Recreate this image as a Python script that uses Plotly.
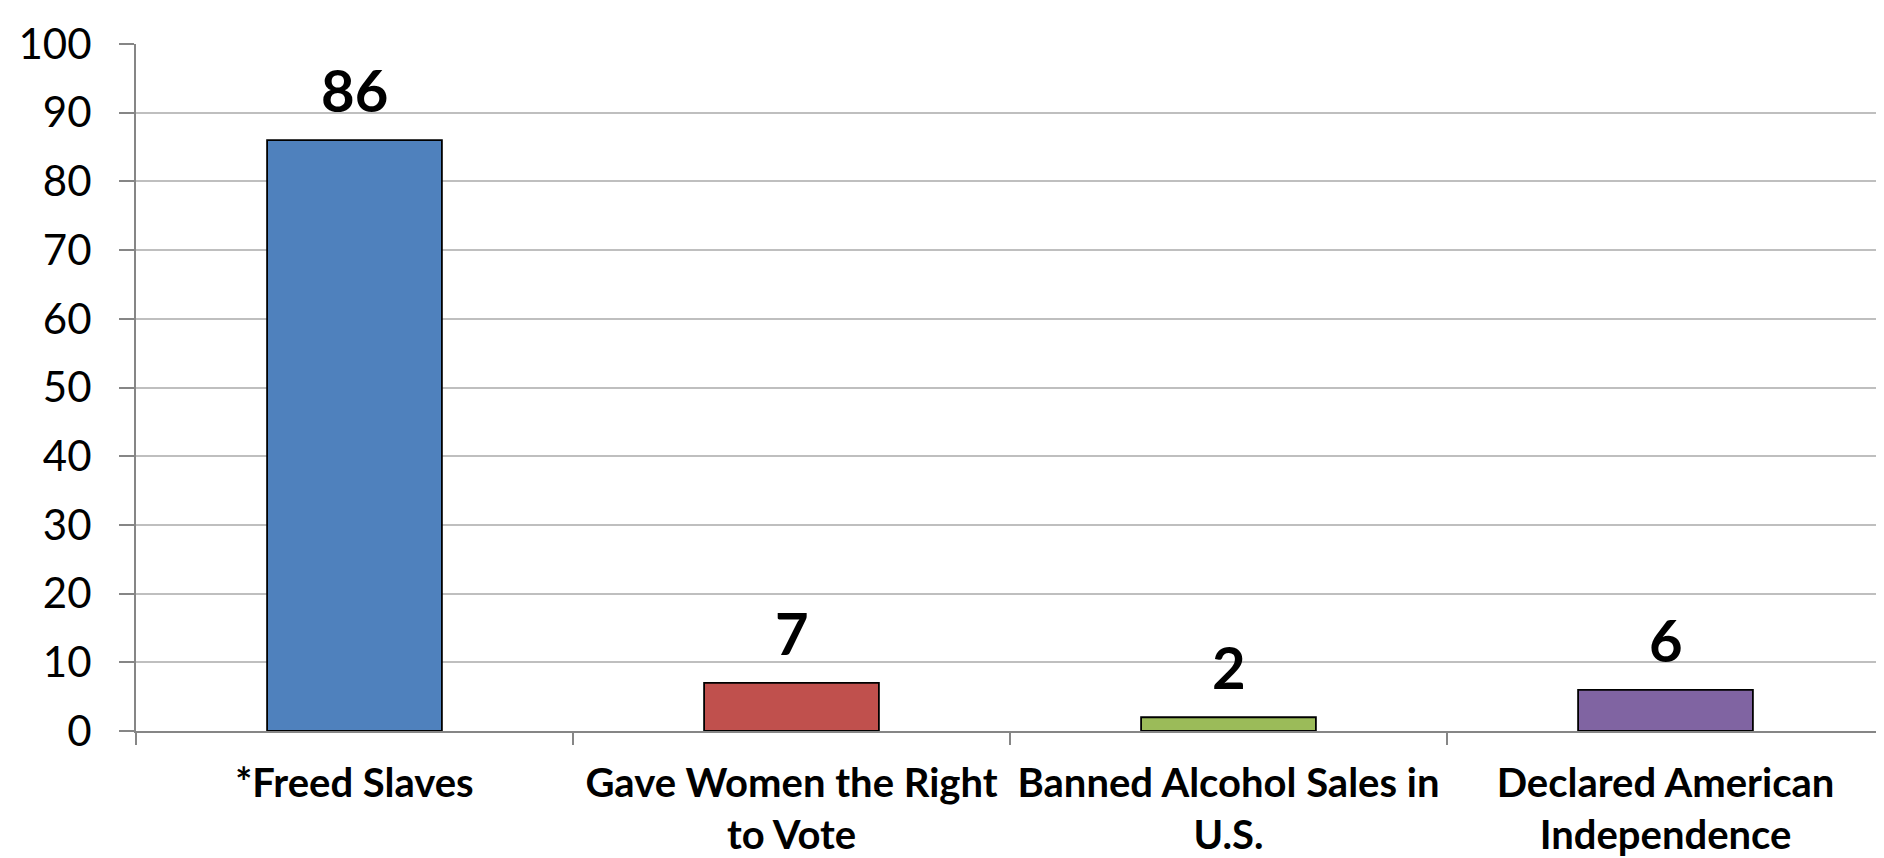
import plotly.graph_objects as go

categories = ["*Freed Slaves", "Gave Women the Right<br>to Vote", "Banned Alcohol Sales in<br>U.S.", "Declared American<br>Independence"]
values = [86, 7, 2, 6]
colors = ["#4F81BD", "#C0504D", "#9BBB59", "#8064A2"]
y_ticks = [0, 10, 20, 30, 40, 50, 60, 70, 80, 90, 100]

FONT = "Lato"

fig = go.Figure()
fig.add_trace(go.Bar(
    x=categories, y=values,
    marker=dict(color=colors, line=dict(color="black", width=1.8)),
    width=0.4,
    hoverinfo="skip",
))

for c, v in zip(categories, values):
    fig.add_annotation(x=c, y=v, text="<b>%d</b>" % v, showarrow=False,
                       yanchor="bottom", yshift=14,
                       font=dict(family=FONT, size=58, color="black"))

fig.update_layout(
    width=1876, height=850,
    margin=dict(l=128, r=0, t=36, b=127),
    paper_bgcolor="white", plot_bgcolor="white",
    showlegend=False,
    font=dict(family=FONT, color="black"),
)
fig.update_yaxes(
    range=[0, 100], tickvals=y_ticks,
    showgrid=True, gridcolor="#BFBFBF", gridwidth=2,
    showline=True, linecolor="#868686", linewidth=2,
    ticks="outside", ticklen=15, tickcolor="#868686", tickwidth=2,
    tickfont=dict(family=FONT, size=42, color="black"),
    ticklabelstandoff=19,
    zeroline=False,
    automargin=False,
)
fig.update_xaxes(
    type="category",
    showline=True, linecolor="#868686", linewidth=2,
    ticks="outside", tickson="boundaries", ticklen=12, tickcolor="#868686", tickwidth=2,
    tickfont=dict(family=FONT, size=40, color="black"),
    tickprefix="<b>", ticksuffix="</b>",
    ticklabelstandoff=16,
    showgrid=False,
    automargin=False,
)

fig.write_html("out.html")
